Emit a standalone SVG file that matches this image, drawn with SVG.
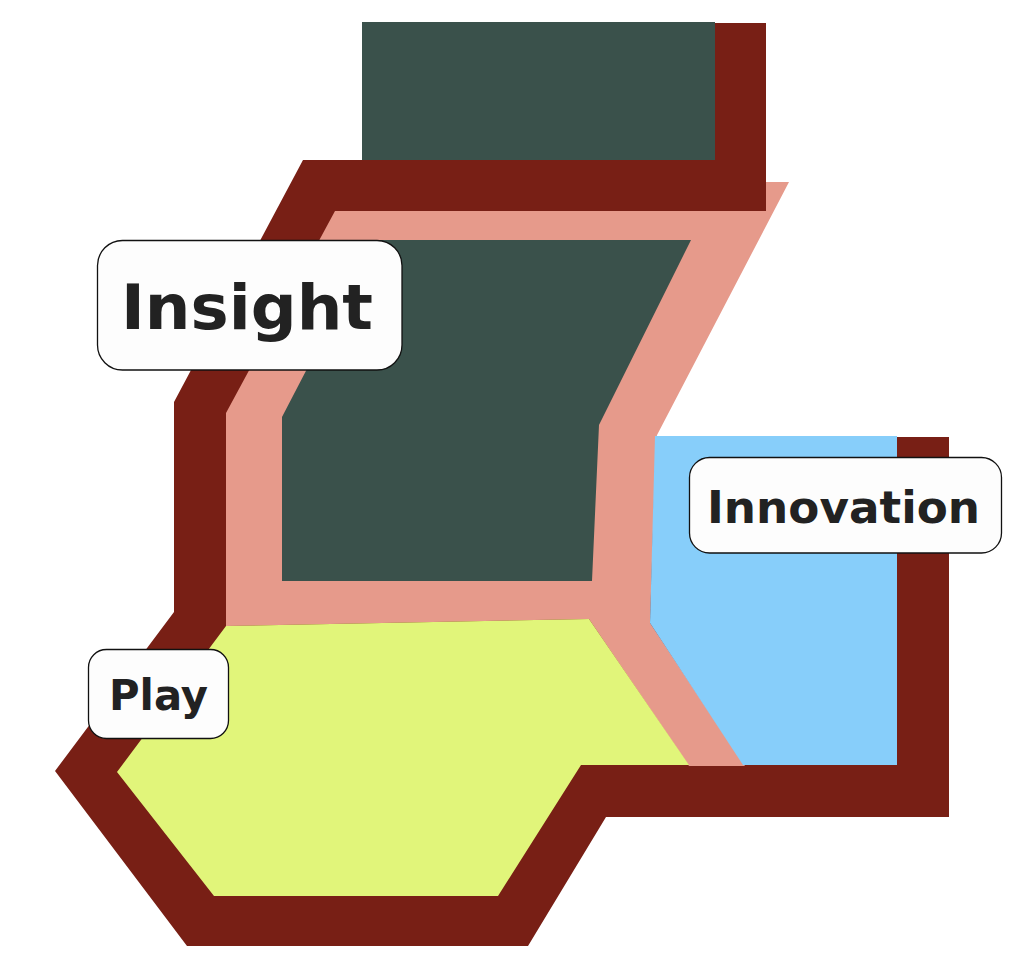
<svg xmlns="http://www.w3.org/2000/svg" width="1031" height="979" viewBox="0 0 1031 979">
  <style>
    .red { fill: #781f15; }
    .salmon { fill: #e69a8b; }
    .green { fill: #3a514b; }
    .blue { fill: #87cefa; }
    .yellow { fill: #e1f57a; }
    .label rect { fill: #fdfdfd; stroke: #111111; stroke-width: 1.3; }
    .label text { font-family: "DejaVu Sans", "Liberation Sans", sans-serif; font-weight: bold; fill: #222222; }
  </style>
  <rect width="1031" height="979" fill="#ffffff"/>
  <g id="frame">
    <polygon class="red" points="303,160 362,160 362,23 766,23 766,211 700,211 656,437 949,437 949,817 606,817 528,946 187,946 55,771 174,612 174,402"/>
    <polygon class="salmon" points="335,211 766,211 766,182 789,182 656,437 650,623 745,766 689,766 589,619 226,626 226,413"/>
  </g>
  <g id="node-top">
    <rect class="green" x="362" y="22" width="353" height="138"/>
  </g>
  <g id="node-insight">
    <polygon class="green" points="374,240 691,240 599,425 592,581 282,581 282,417"/>
  </g>
  <g id="node-innovation">
    <polygon class="blue" points="655,436 897,436 897,765 743,765 650,623"/>
  </g>
  <g id="node-play">
    <polygon class="yellow" points="226,626 589,619 689,765 581,765 498,896 214,896 117,772"/>
  </g>
  <g id="connectors"></g>
  <g id="label-insight" class="label">
    <rect x="97.5" y="240.5" width="304.5" height="129.5" rx="25" ry="25"/>
    <text x="121" y="329" font-size="63" textLength="252" lengthAdjust="spacingAndGlyphs">Insight</text>
  </g>
  <g id="label-innovation" class="label">
    <rect x="689.5" y="457.5" width="312" height="95.5" rx="20" ry="20"/>
    <text x="707" y="523" font-size="45" textLength="273" lengthAdjust="spacingAndGlyphs">Innovation</text>
  </g>
  <g id="label-play" class="label">
    <rect x="88.5" y="649.5" width="140" height="89" rx="18" ry="18"/>
    <text x="109" y="710" font-size="42" textLength="99" lengthAdjust="spacingAndGlyphs">Play</text>
  </g>
</svg>
